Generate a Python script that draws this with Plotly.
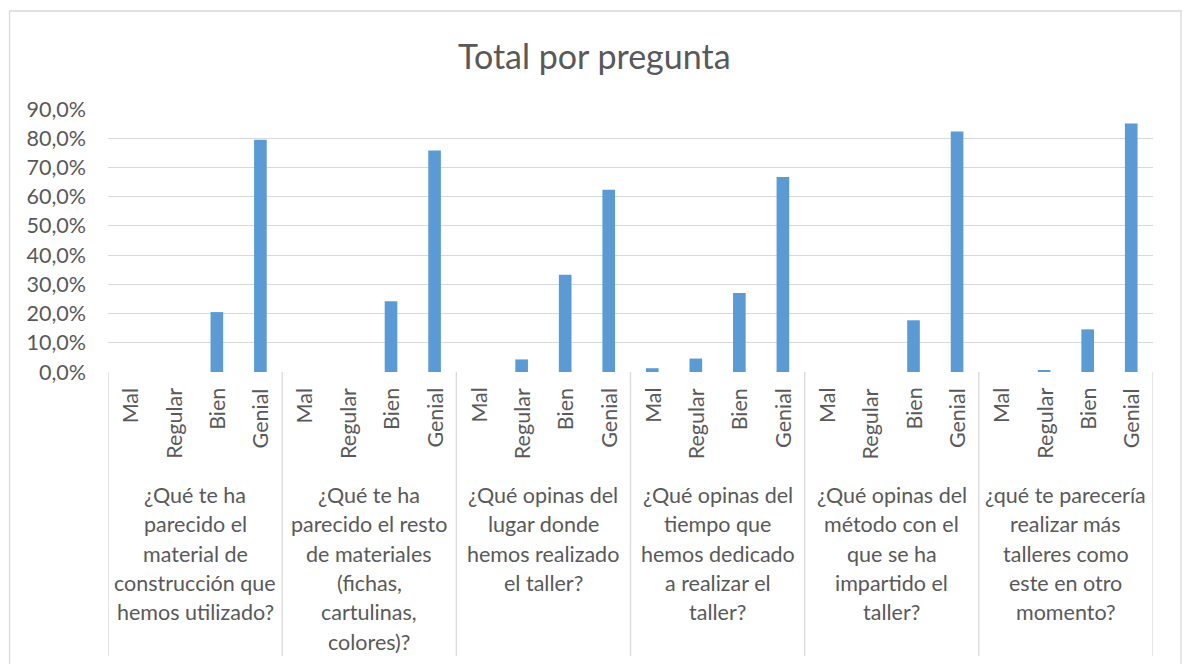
import plotly.graph_objects as go

# ---- data ----
ratings = ["Mal", "Regular", "Bien", "Genial"]
question_lines = [
    ["¿Qué te ha", "parecido el", "material de", "construcción que", "hemos utilizado?"],
    ["¿Qué te ha", "parecido el resto", "de materiales", "(fichas,", "cartulinas,", "colores)?"],
    ["¿Qué opinas del", "lugar donde", "hemos realizado", "el taller?"],
    ["¿Qué opinas del", "tiempo que", "hemos dedicado", "a realizar el", "taller?"],
    ["¿Qué opinas del", "método con el", "que se ha", "impartido el", "taller?"],
    ["¿qué te parecería", "realizar más", "talleres como", "este en otro", "momento?"],
]
q1 = [0.0, 0.0, 0.205, 0.795]
q2 = [0.0, 0.0, 0.242, 0.758]
q3 = [0.0, 0.043, 0.333, 0.624]
q4 = [0.013, 0.046, 0.270, 0.667]
q5 = [0.0, 0.0, 0.177, 0.823]
q6 = [0.0, 0.004, 0.146, 0.850]
y_ticks = [0, 0.1, 0.2, 0.3, 0.4, 0.5, 0.6, 0.7, 0.8, 0.9]
y_tick_labels = ["0,0%", "10,0%", "20,0%", "30,0%", "40,0%", "50,0%", "60,0%", "70,0%", "80,0%", "90,0%"]
title = "Total por pregunta"

# ---- layout geometry (pixels) ----
W, H = 1183, 664
PL, PR, PT, PB = 108, 1153.5, 109, 372
TXT = "#595959"
FONT = "Lato"
FS = 21.5


def py2paper(py):
    return (PB - py) / (PB - PT)


def px2paper(px):
    return (px - PL) / (PR - PL)


groups = [q1, q2, q3, q4, q5, q6]
values = [v for g in groups for v in g]
xs = list(range(len(values)))

fig = go.Figure()
fig.add_trace(go.Bar(x=xs, y=values, marker=dict(color="#5B9BD5", line=dict(width=0)),
                     hoverinfo="y"))

annotations = []
shapes = []
n_r = len(ratings)
for gi, lines in enumerate(question_lines):
    for ri, r in enumerate(ratings):
        annotations.append(dict(
            x=gi * n_r + ri, xref="x", y=py2paper(386), yref="paper",
            text=r, textangle=-90, showarrow=False, xanchor="center", yanchor="top",
            font=dict(family=FONT, size=FS, color=TXT)))
    cx = gi * n_r + (n_r - 1) / 2
    for li, line in enumerate(lines):
        annotations.append(dict(
            x=cx, xref="x", y=py2paper(495 + 29.3 * li), yref="paper",
            text=line, showarrow=False, xanchor="center", yanchor="middle",
            font=dict(family=FONT, size=FS, color=TXT)))
# group divider lines
for gi in range(len(question_lines) + 1):
    xb = gi * n_r - 0.5
    shapes.append(dict(type="line", xref="x", yref="paper", x0=xb, x1=xb,
                       y0=0, y1=py2paper(656), line=dict(color="#D9D9D9", width=1.3)))
# chart border
shapes.append(dict(type="rect", xref="paper", yref="paper",
                   x0=px2paper(9.5), x1=px2paper(1181.5), y0=py2paper(680), y1=py2paper(11),
                   line=dict(color="#D9D9D9", width=1.3), fillcolor="rgba(0,0,0,0)", layer="below"))

annotations.append(dict(x=px2paper(595), xref="paper", y=py2paper(55), yref="paper",
                        text=title, showarrow=False, xanchor="center", yanchor="middle",
                        font=dict(family=FONT, size=34, color=TXT)))

fig.update_layout(
    width=W, height=H,
    margin=dict(l=PL, r=W - PR, t=PT, b=H - PB, pad=0),
    paper_bgcolor="white", plot_bgcolor="white",
    bargap=0.71,
    showlegend=False,
    xaxis=dict(range=[-0.5, len(values) - 0.5], showticklabels=False, showgrid=False,
               zeroline=False, showline=False, ticks="", fixedrange=True),
    yaxis=dict(range=[0, 0.9], tickvals=y_ticks, ticktext=y_tick_labels,
               showgrid=True, gridcolor="#D9D9D9", gridwidth=1.3, zeroline=False,
               showline=False, ticks="", ticklabelstandoff=21,
               tickfont=dict(family=FONT, size=FS, color=TXT), fixedrange=True),
    annotations=annotations,
    shapes=shapes,
)

fig.write_html("out.html", config={"displayModeBar": False},
               post_script="document.body.style.margin='0';document.body.style.overflow='hidden';")
